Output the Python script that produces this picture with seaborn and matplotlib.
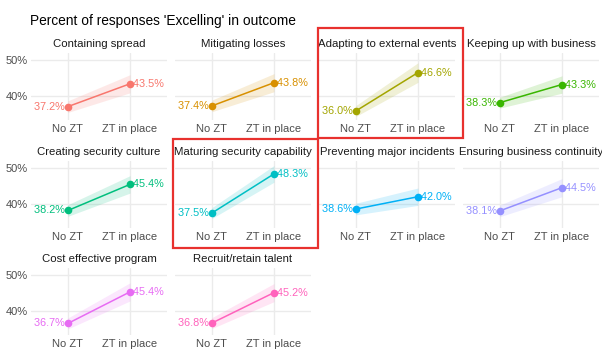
import matplotlib
matplotlib.use("Agg")
import matplotlib.pyplot as plt
import matplotlib.patches as mpatches
import seaborn as sns
import pandas as pd
import numpy as np

outcomes = ["Containing spread", "Mitigating losses", "Adapting to external events",
            "Keeping up with business", "Creating security culture",
            "Maturing security capability", "Preventing major incidents",
            "Ensuring business continuity", "Cost effective program",
            "Recruit/retain talent"]
groups = ["No ZT", "ZT in place"]
no_zt = [37.2, 37.4, 36.0, 38.3, 38.2, 37.5, 38.6, 38.1, 36.7, 36.8]
zt_in_place = [43.5, 43.8, 46.6, 43.3, 45.4, 48.3, 42.0, 44.5, 45.4, 45.2]
no_zt_ci = [1.6, 1.6, 1.5, 1.5, 1.6, 1.5, 1.6, 1.6, 1.5, 1.5]
zt_ci = [2.5, 2.5, 2.7, 2.4, 2.4, 2.3, 2.4, 2.5, 2.5, 2.5]
colors = ["#F8766D", "#D89000", "#A3A500", "#39B600", "#00BF7D",
          "#00BFC4", "#00B0F6", "#9590FF", "#E76BF3", "#FF62BC"]
title = "Percent of responses 'Excelling' in outcome"

rows = []
for o, a, b, ea, eb in zip(outcomes, no_zt, zt_in_place, no_zt_ci, zt_ci):
    rows.append(dict(outcome=o, group=groups[0], pct=a, lo=a - ea, hi=a + ea))
    rows.append(dict(outcome=o, group=groups[1], pct=b, lo=b - eb, hi=b + eb))
df = pd.DataFrame(rows)

sns.set_theme(style="whitegrid")
plt.rcParams["font.family"] = ["Liberation Sans", "DejaVu Sans"]

W, H = 602, 358
fig = plt.figure(figsize=(W / 100, H / 100), dpi=100)

ncol = 4
left0, colstep, pw = 30.7, 144.0, 136.5
top0, rowstep, ph = 53.0, 107.5, 67.0
ylim = (33.5, 52.0)

for i, (o, c) in enumerate(zip(outcomes, colors)):
    r, k = divmod(i, ncol)
    x0 = left0 + k * colstep
    y0 = top0 + r * rowstep
    ax = fig.add_axes([x0 / W, 1 - (y0 + ph) / H, pw / W, ph / H])
    sub = df[df.outcome == o]
    ax.fill_between(sub["group"], sub["lo"], sub["hi"], color=c, alpha=0.16, lw=0)
    sns.lineplot(data=sub, x="group", y="pct", ax=ax, color=c, lw=1.1,
                 marker="o", markersize=5.5, markeredgewidth=0, sort=False)
    ys = list(sub["pct"])
    ax.text(0, ys[0], f"{ys[0]:.1f}% ", color=c, fontsize=7.8,
            ha="right", va="center")
    ax.text(1, ys[1], f" {ys[1]:.1f}%", color=c, fontsize=7.8,
            ha="left", va="center")
    ax.set_xlim(-0.6, 1.6)
    ax.set_ylim(*ylim)
    ax.set_yticks([40, 50])
    ax.set_xticks([0, 1])
    ax.set_xticklabels(groups)
    if k == 0:
        ax.set_yticklabels(["40%", "50%"])
    else:
        ax.set_yticklabels([])
    ax.set_xlabel("")
    ax.set_ylabel("")
    ax.set_facecolor("white")
    for s in ax.spines.values():
        s.set_visible(False)
    ax.grid(True, color="#EBEBEB", lw=1.0)
    ax.tick_params(axis="both", length=0, labelsize=8, colors="#4D4D4D", pad=2)
    ax.tick_params(axis="x", pad=3)
    ax.set_title(o, fontsize=8.2, color="#1A1A1A", pad=4)

fig.text(30 / W, 1 - 20.5 / H, title, fontsize=9.9, color="black",
         ha="left", va="center")

boxes = [(318.3, 28.3, 463.3, 138.3), (172.7, 139.0, 318.3, 247.5)]
for (x1, y1, x2, y2) in boxes:
    fig.patches.append(mpatches.Rectangle((x1 / W, 1 - y2 / H), (x2 - x1) / W,
                                          (y2 - y1) / H, transform=fig.transFigure,
                                          fill=False, edgecolor="#E8312E", lw=1.6))

fig.savefig("out.png", dpi=100)
